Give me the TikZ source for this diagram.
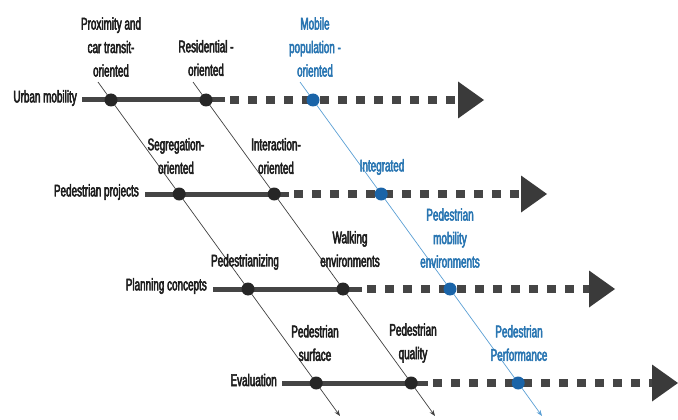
\documentclass[tikz,border=0pt]{standalone}
\usepackage{fontspec}
\setmainfont{Liberation Sans}[FakeStretch=0.59,FakeBold=3]
\usetikzlibrary{arrows.meta}
\definecolor{linegray}{HTML}{454545}
\definecolor{headgray}{HTML}{3A3A3A}
\definecolor{txtblue}{HTML}{2A76B2}
\definecolor{dotblue}{HTML}{1A64A8}
\definecolor{diagblue}{HTML}{5A9FD4}
\definecolor{txtdark}{HTML}{1E1E1E}
\begin{document}
\begin{tikzpicture}[x=1pt,y=-1pt,
  lbl/.style={font=\fontsize{16.8}{23.5}\selectfont, text=txtdark, align=center, inner sep=0pt},
  bluelbl/.style={lbl, text=txtblue},
  rowlbl/.style={lbl, anchor=east},
  dotnode/.style={circle, fill=black!85, minimum size=13pt, inner sep=0pt},
  bdotnode/.style={dotnode, fill=dotblue},
  solidline/.style={line width=5pt, draw=linegray},
  dashline/.style={line width=8.5pt, draw=linegray, dash pattern=on 9pt off 9pt, dash phase=13pt},
  headfill/.style={fill=headgray},
  diag/.style={line width=0.7pt, draw=black!75, -{Stealth[length=6pt,width=4.5pt]}},
  bdiag/.style={diag, draw=diagblue}
]
\useasboundingbox (0,0) rectangle (678,420);

% row coordinates
\coordinate (s1) at (82,100);  \coordinate (se1) at (225,100); \coordinate (ab1) at (458,100);
\coordinate (s2) at (145,194); \coordinate (se2) at (289,194); \coordinate (ab2) at (521,194);
\coordinate (s3) at (213,289); \coordinate (se3) at (362,289); \coordinate (ab3) at (589,289);
\coordinate (s4) at (282,383); \coordinate (se4) at (428,383); \coordinate (ab4) at (652,383);

% row labels
\node[rowlbl] (rl1) at (77,98) {Urban mobility};
\node[rowlbl] (rl2) at (139,192) {Pedestrian projects};
\node[rowlbl] (rl3) at (207,286) {Planning concepts};
\node[rowlbl] (rl4) at (277,380) {Evaluation};

% row lines
\foreach \r in {1,2,3,4}{
  \draw[solidline] (s\r) -- (se\r);
  \draw[dashline] (se\r) -- (ab\r);
  \fill[headfill] (ab\r) ++(0,-18.5) -- ++(26,18.5) -- ++(-26,18.5) -- cycle;
}

% diagonal end points and dot positions
\coordinate (t1) at (98,82);  \coordinate (b1) at (340,416);
\coordinate (t2) at (193,82); \coordinate (b2) at (435,416);
\coordinate (t3) at (300,82); \coordinate (b3) at (542,416);
\coordinate (p-1-1) at (111,100);   \coordinate (p-1-2) at (206,100);   \coordinate (p-1-3) at (313,100);
\coordinate (p-2-1) at (179.2,194); \coordinate (p-2-2) at (274.2,194); \coordinate (p-2-3) at (381.2,194);
\coordinate (p-3-1) at (248,289);   \coordinate (p-3-2) at (343,289);   \coordinate (p-3-3) at (450,289);
\coordinate (p-4-1) at (316.2,383); \coordinate (p-4-2) at (411.2,383); \coordinate (p-4-3) at (518.2,383);

% diagonals
\draw[diag]  (t1) -- (p-1-1) -- (p-2-1) -- (p-3-1) -- (p-4-1) -- (b1);
\draw[diag]  (t2) -- (p-1-2) -- (p-2-2) -- (p-3-2) -- (p-4-2) -- (b2);
\draw[bdiag] (t3) -- (p-1-3) -- (p-2-3) -- (p-3-3) -- (p-4-3) -- (b3);

% dots
\foreach \r in {1,2,3,4}{
  \node[dotnode]  (d-\r-1) at (p-\r-1) {};
  \node[dotnode]  (d-\r-2) at (p-\r-2) {};
  \node[bdotnode] (d-\r-3) at (p-\r-3) {};
}

% stage labels
\node[lbl]     (prox)     at (111,47)  {Proximity and\\car transit-\\oriented};
\node[lbl]     (resid)    at (206,58)  {Residential -\\oriented};
\node[bluelbl] (mobile)   at (315,47)  {Mobile\\population -\\oriented};
\node[lbl]     (segreg)   at (176,156) {Segregation-\\oriented};
\node[lbl]     (interact) at (276,156) {Interaction-\\oriented};
\node[bluelbl] (integ)    at (382,167) {Integrated};
\node[lbl]     (pedz)     at (245,262) {Pedestrianizing};
\node[lbl]     (walking)  at (350,249) {Walking\\environments};
\node[bluelbl] (pmob)     at (450,238) {Pedestrian\\mobility\\environments};
\node[lbl]     (psurf)    at (315,343) {Pedestrian\\surface};
\node[lbl]     (pqual)    at (413,343) {Pedestrian\\quality};
\node[bluelbl] (pperf)    at (519,343) {Pedestrian\\Performance};
\end{tikzpicture}
\end{document}
